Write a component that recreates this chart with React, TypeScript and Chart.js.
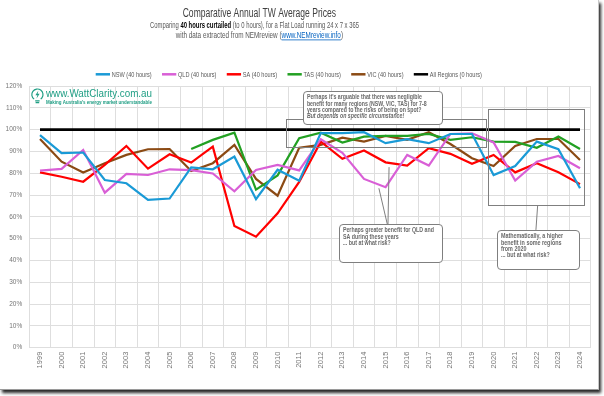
import { useEffect, useRef } from "react";
import { Chart, registerables } from "chart.js";

Chart.register(...registerables);

const years = ["1999", "2000", "2001", "2002", "2003", "2004", "2005", "2006", "2007", "2008", "2009", "2010", "2011", "2012", "2013", "2014", "2015", "2016", "2017", "2018", "2019", "2020", "2021", "2022", "2023", "2024"];

const nsw = [97.5, 89.2, 89.5, 76.9, 75.4, 67.8, 68.4, 82.7, 81.8, 87.6, 68.1, 81.6, 76.6, 98.4, 98.4, 98.8, 93.8, 95.6, 93.8, 98.0, 98.0, 79.2, 83.3, 94.5, 91.0, 73.1];
const qld = [81.2, 82.0, 90.7, 71.1, 79.7, 79.2, 81.8, 81.4, 79.9, 71.7, 81.5, 83.8, 81.3, 95.6, 89.4, 77.4, 73.6, 88.4, 83.5, 98.0, 98.3, 94.1, 76.6, 85.3, 87.9, 82.3];
const sa = [80.4, 78.4, 76.1, 83.8, 92.5, 82.1, 88.7, 84.9, 92.2, 55.8, 50.9, 61.6, 76.0, 94.5, 86.6, 90.4, 85.0, 83.5, 91.5, 88.9, 84.3, 88.4, 80.4, 84.6, 80.4, 75.0];
const tas = [null, null, null, null, null, null, null, 91.1, 95.3, 98.6, 72.5, 79.0, 96.1, 98.6, 94.1, 96.8, 97.1, 97.1, 98.0, 95.3, 96.5, 94.5, 94.4, 91.7, 96.8, 91.1];
const vic = [95.7, 85.3, 80.3, 84.6, 88.4, 91.0, 91.1, 81.0, 84.6, 93.0, 77.4, 69.7, 91.7, 93.0, 96.3, 94.5, 97.1, 95.3, 98.8, 93.4, 86.9, 83.3, 92.5, 95.7, 95.7, 86.1];
const allRegions = [100, 100, 100, 100, 100, 100, 100, 100, 100, 100, 100, 100, 100, 100, 100, 100, 100, 100, 100, 100, 100, 100, 100, 100, 100, 100];

const seriesLabels = ["NSW (40 hours)", "QLD (40 hours)", "SA (40 hours)", "TAS (40 hours)", "VIC (40 hours)", "All Regions (0 hours)"];
const seriesColors = ["#1a9ad6", "#d95fd6", "#ff0000", "#22a022", "#8b4a14", "#000000"];

const FONT = '"Liberation Sans", Arial, sans-serif';
const NARROW = '"Liberation Sans Narrow", "Liberation Sans", Arial, sans-serif';
const GREY_TEXT = "#595959";
const TICK_TEXT = "#767676";
const CALLOUT_TEXT = "#6a6a6a";
const ANNOT = "#7f7f7f";

type Seg = { t: string; font: string; color: string; underline?: boolean };

function drawSegs(ctx: CanvasRenderingContext2D, segs: Seg[], x0: number, y: number, targetW: number) {
  ctx.save();
  ctx.textBaseline = "middle";
  ctx.textAlign = "left";
  const widths = segs.map((s) => {
    ctx.font = s.font;
    return ctx.measureText(s.t).width;
  });
  const total = widths.reduce((a, b) => a + b, 0);
  const k = targetW / total;
  ctx.translate(x0, y);
  ctx.scale(k, 1);
  let x = 0;
  segs.forEach((s, i) => {
    ctx.font = s.font;
    ctx.fillStyle = s.color;
    ctx.fillText(s.t, x, 0);
    if (s.underline) ctx.fillRect(x, 4.2, widths[i], 0.8);
    x += widths[i];
  });
  ctx.restore();
}

type Callout = {
  box: [number, number, number, number];
  lines: { t: string; italic?: boolean }[];
  firstW: number;
};

const rects: [number, number, number, number][] = [
  [11.39, 20.64, 104.8, 91.9],
  [20.75, 25.2, 109.4, 65.3],
];
const connectors: [number, number, number, number][] = [
  [15.69, 73.1, 16.08, 56.6],
  [16.16, 82.8, 16.11, 56.6],
  [23.04, 65.3, 22.96, 54.0],
];
const callouts: Callout[] = [
  {
    box: [12.19, 18.62, 117.9, 102.6],
    lines: [
      { t: "Perhaps it's arguable that there was negligible" },
      { t: "benefit for many regions (NSW, VIC, TAS) for 7-8" },
      { t: "years compared to the risks of being on spot?" },
      { t: "But depends on specific circumstance!", italic: true },
    ],
    firstW: 115,
  },
  {
    box: [13.86, 18.62, 56.6, 39.4],
    lines: [{ t: "Perhaps greater benefit for QLD and" }, { t: "SA during these years" }, { t: "... but at what risk?" }],
    firstW: 91,
  },
  {
    box: [21.16, 24.95, 54.0, 36.0],
    lines: [{ t: "Mathematically, a higher" }, { t: "benefit in some regions" }, { t: "from 2020" }, { t: "... but at what risk?" }],
    firstW: 62.3,
  },
];

function roundRect(ctx: CanvasRenderingContext2D, x: number, y: number, w: number, h: number, r: number) {
  ctx.beginPath();
  ctx.moveTo(x + r, y);
  ctx.lineTo(x + w - r, y);
  ctx.arcTo(x + w, y, x + w, y + r, r);
  ctx.lineTo(x + w, y + h - r);
  ctx.arcTo(x + w, y + h, x + w - r, y + h, r);
  ctx.lineTo(x + r, y + h);
  ctx.arcTo(x, y + h, x, y + h - r, r);
  ctx.lineTo(x, y + r);
  ctx.arcTo(x, y, x + r, y, r);
  ctx.closePath();
}

const decorPlugin = {
  id: "decor",
  afterDatasetsDraw(chart: any) {
    const ctx: CanvasRenderingContext2D = chart.ctx;
    const xs = chart.scales.x;
    const ys = chart.scales.y;
    const px = (v: number) => xs.getPixelForValue(v);
    const py = (v: number) => ys.getPixelForValue(v);
    ctx.save();
    ctx.strokeStyle = ANNOT;
    ctx.lineWidth = 1;
    rects.forEach(([x1, x2, y1, y2]) => {
      ctx.strokeRect(Math.round(px(x1)) + 0.5, Math.round(py(y1)) + 0.5, Math.round(px(x2) - px(x1)), Math.round(py(y2) - py(y1)));
    });
    connectors.forEach(([x1, y1, x2, y2]) => {
      ctx.beginPath();
      ctx.moveTo(px(x1), py(y1));
      ctx.lineTo(px(x2), py(y2));
      ctx.stroke();
    });
    callouts.forEach((c) => {
      const [x1, x2, y1, y2] = c.box;
      const bx = Math.round(px(x1)) + 0.5;
      const by = Math.round(py(y1)) + 0.5;
      const bw = Math.round(px(x2) - px(x1));
      const bh = Math.round(py(y2) - py(y1));
      roundRect(ctx, bx, by, bw, bh, 3.5);
      ctx.fillStyle = "#ffffff";
      ctx.fill();
      ctx.strokeStyle = ANNOT;
      ctx.stroke();
      ctx.font = `bold 7px ${FONT}`;
      const k = c.firstW / ctx.measureText(c.lines[0].t).width;
      c.lines.forEach((ln, i) => {
        const font = `${ln.italic ? "italic " : ""}bold 7px ${FONT}`;
        ctx.save();
        ctx.font = font;
        ctx.fillStyle = CALLOUT_TEXT;
        ctx.textBaseline = "middle";
        ctx.translate(bx + 3.4, by + 6 + i * 6.2);
        ctx.scale(k, 1);
        ctx.fillText(ln.t, 0, 0);
        ctx.restore();
      });
    });
    ctx.restore();
  },
  afterDraw(chart: any) {
    const ctx: CanvasRenderingContext2D = chart.ctx;
    ctx.save();
    drawSegs(ctx, [{ t: "Comparative Annual TW Average Prices", font: `12px ${FONT}`, color: "#404040" }], 182.7, 14, 153.3);
    drawSegs(
      ctx,
      [
        { t: "Comparing ", font: `9px ${FONT}`, color: GREY_TEXT },
        { t: "40 hours curtailed", font: `bold 9px ${FONT}`, color: "#000000" },
        { t: " (to 0 hours), for a Flat Load running 24 x 7 x 365", font: `9px ${FONT}`, color: GREY_TEXT },
      ],
      150,
      25.7,
      209
    );
    drawSegs(
      ctx,
      [
        { t: "with data extracted from NEMreview (", font: `9px ${FONT}`, color: GREY_TEXT },
        { t: "www.NEMreview.info", font: `9px ${FONT}`, color: "#0563c1", underline: true },
        { t: ")", font: `9px ${FONT}`, color: GREY_TEXT },
      ],
      175.7,
      35.3,
      167.3
    );

    const ly = 74.3;
    ctx.font = `8px ${FONT}`;
    const k = 40 / ctx.measureText(seriesLabels[0]).width;
    let lx = 95.7;
    chart.data.datasets.forEach((ds: any) => {
      ctx.strokeStyle = ds.borderColor;
      ctx.lineWidth = 2.5;
      ctx.beginPath();
      ctx.moveTo(lx, ly);
      ctx.lineTo(lx + 14.3, ly);
      ctx.stroke();
      ctx.font = `8px ${FONT}`;
      const w = ctx.measureText(ds.label).width * k;
      ctx.save();
      ctx.fillStyle = GREY_TEXT;
      ctx.textBaseline = "middle";
      ctx.translate(lx + 16, ly);
      ctx.scale(k, 1);
      ctx.fillText(ds.label, 0, 0);
      ctx.restore();
      lx += 16 + w + 10.3;
    });

    const teal = "#1f9e84";
    ctx.strokeStyle = teal;
    ctx.lineWidth = 1.2;
    ctx.beginPath();
    ctx.arc(37.4, 94.6, 5.6, Math.PI * 0.7, Math.PI * 2.3);
    ctx.stroke();
    ctx.beginPath();
    ctx.moveTo(35.2, 100.8);
    ctx.lineTo(39.6, 100.8);
    ctx.moveTo(35.6, 102.6);
    ctx.lineTo(39.2, 102.6);
    ctx.stroke();
    ctx.fillStyle = teal;
    ctx.beginPath();
    ctx.moveTo(38.4, 90.6);
    ctx.lineTo(35.4, 95.2);
    ctx.lineTo(37.4, 95.2);
    ctx.lineTo(36.4, 98.8);
    ctx.lineTo(39.6, 93.8);
    ctx.lineTo(37.6, 93.8);
    ctx.closePath();
    ctx.fill();
    drawSegs(
      ctx,
      [
        { t: "www.", font: `11px ${FONT}`, color: teal },
        { t: "WattClarity", font: `11px ${FONT}`, color: teal },
        { t: ".com.au", font: `11px ${FONT}`, color: teal },
      ],
      46,
      94.2,
      106
    );
    drawSegs(ctx, [{ t: "Making Australia's energy market understandable", font: `bold 5px ${FONT}`, color: teal }], 46, 102.3, 106);
    ctx.restore();
  },
};

export default function App() {
  const ref = useRef<HTMLCanvasElement | null>(null);

  useEffect(() => {
    if (!ref.current) return;
    const series = [nsw, qld, sa, tas, vic, allRegions];
    const chart = new Chart(ref.current, {
      type: "line",
      data: {
        labels: years,
        datasets: series.map((d, i) => ({
          label: seriesLabels[i],
          data: d,
          borderColor: seriesColors[i],
          backgroundColor: seriesColors[i],
          borderWidth: i === 5 ? 2.6 : 2.2,
          pointRadius: 0,
          pointHoverRadius: 0,
          tension: 0,
          fill: false,
          spanGaps: false,
        })),
      },
      options: {
        animation: false,
        responsive: false,
        devicePixelRatio: 1,
        layout: { padding: { top: 86, right: 8.2, bottom: 13.3, left: 0 } },
        plugins: {
          legend: { display: false },
          title: { display: false },
          tooltip: { enabled: false },
        },
        scales: {
          x: {
            offset: true,
            grid: { color: "#dedede", offset: true, drawTicks: false, lineWidth: 1 },
            border: { color: "#dedede" },
            ticks: {
              maxRotation: 90,
              minRotation: 90,
              autoSkip: false,
              padding: 4,
              color: TICK_TEXT,
              font: { family: NARROW, size: 7.5 },
            },
            afterFit: (s: any) => {
              s.height = 30;
            },
          },
          y: {
            min: 0,
            max: 120,
            grid: { color: "#dedede", drawTicks: false, lineWidth: 1 },
            border: { color: "#dedede" },
            ticks: {
              stepSize: 10,
              padding: 7,
              color: TICK_TEXT,
              font: { family: NARROW, size: 6.5 },
              callback: (v: any) => `${v}%`,
            },
            afterFit: (s: any) => {
              s.width = 29.2;
            },
          },
        },
      },
      plugins: [decorPlugin],
    });
    return () => chart.destroy();
  }, []);

  return (
    <div style={{ position: "fixed", left: 0, top: 0, width: 604, height: 396, background: "#ffffff" }}>
      <div
        style={{
          position: "absolute",
          left: 0,
          top: 0,
          width: 598,
          height: 389,
          background: "#ffffff",
          borderRight: "1px solid #c8c8c8",
          borderBottom: "1px solid #9a9a9a",
          boxShadow: "2px 3px 3px rgba(0,0,0,0.85)",
        }}
      >
        <canvas ref={ref} width={599} height={391} style={{ display: "block", width: 599, height: 391 }} />
      </div>
    </div>
  );
}
